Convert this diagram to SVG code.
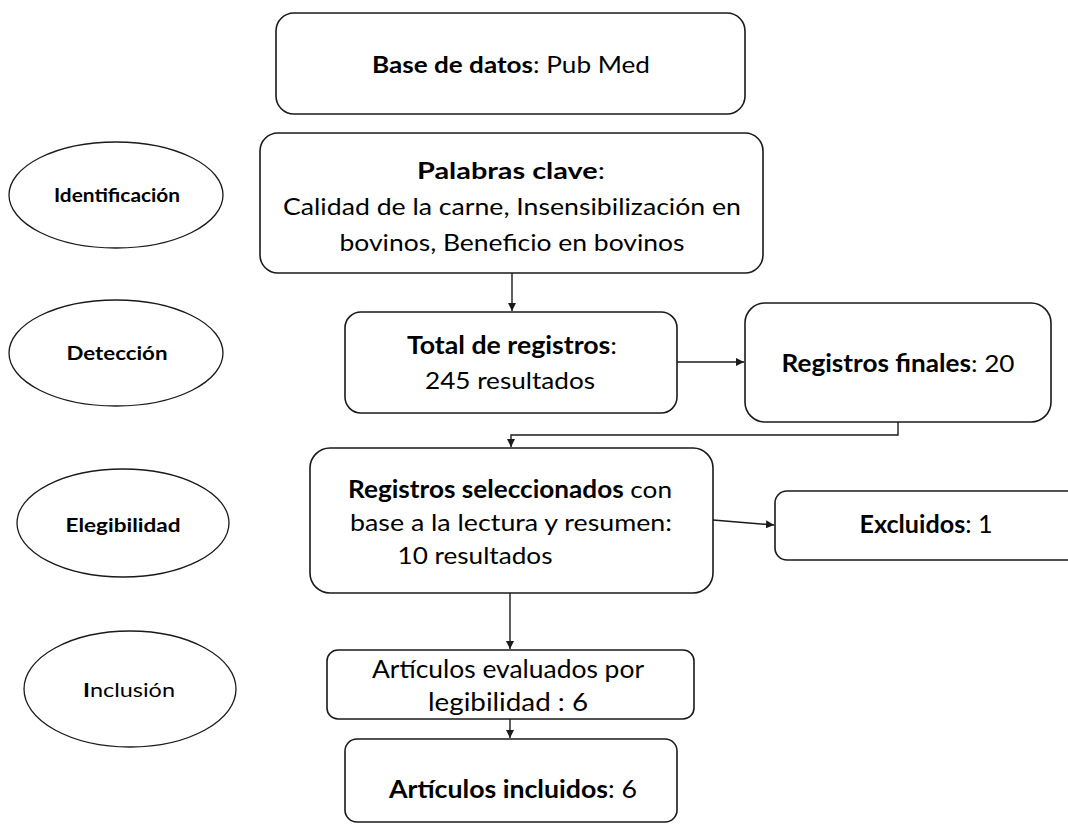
<svg xmlns="http://www.w3.org/2000/svg" width="1068" height="824" viewBox="0 0 1068 824">
<style>
.box{fill:#fff;stroke:#1a1a1a;stroke-width:1.6}
.ell{fill:#fff;stroke:#1a1a1a;stroke-width:1.3}
.t{font-family:Lato,"Liberation Sans",sans-serif;fill:#000;text-anchor:middle}
.b{font-weight:bold}
.lbl{font-family:Lato,"Liberation Sans",sans-serif;font-weight:bold;font-size:19px;text-anchor:middle;fill:#000}
.lbl.reg{font-weight:normal}
.lbl .b{font-weight:bold}
.con{fill:none;stroke:#1a1a1a;stroke-width:1.4}
</style>
<defs>
<marker id="ah" viewBox="0 0 10 10" refX="10" refY="5" markerWidth="8" markerHeight="8" markerUnits="userSpaceOnUse" orient="auto">
<path d="M0,0 L10,5 L0,10 z" fill="#1a1a1a"/>
</marker>
</defs>
<rect width="1068" height="824" fill="#fff"/>

<g id="stage-identificacion">
<ellipse class="ell" cx="116" cy="195" rx="107" ry="53"/>
<text class="lbl" x="117" y="202" textLength="126" lengthAdjust="spacingAndGlyphs">Identificación</text>
</g>
<g id="stage-deteccion">
<ellipse class="ell" cx="116" cy="353" rx="107" ry="53"/>
<text class="lbl" x="117" y="360" textLength="101" lengthAdjust="spacingAndGlyphs">Detección</text>
</g>
<g id="stage-elegibilidad">
<ellipse class="ell" cx="123" cy="523" rx="106" ry="54"/>
<text class="lbl" x="123" y="532" textLength="115" lengthAdjust="spacingAndGlyphs">Elegibilidad</text>
</g>
<g id="stage-inclusion">
<ellipse class="ell" cx="130" cy="689" rx="106" ry="58"/>
<text class="lbl reg" x="129" y="697" textLength="92" lengthAdjust="spacingAndGlyphs"><tspan class="b">I</tspan>nclusión</text>
</g>

<g id="node-base">
<rect class="box" x="276" y="13" width="469" height="101" rx="18"/>
<text class="t" x="511" y="73" font-size="23" textLength="278" lengthAdjust="spacingAndGlyphs"><tspan class="b">Base de datos</tspan>: Pub Med</text>
</g>
<g id="node-palabras">
<rect class="box" x="260" y="133" width="503" height="140" rx="18"/>
<text class="t" x="511" y="179" font-size="23" textLength="188" lengthAdjust="spacingAndGlyphs"><tspan class="b">Palabras clave</tspan>:</text>
<text class="t" x="512" y="215" font-size="23" textLength="458" lengthAdjust="spacingAndGlyphs">Calidad de la carne, Insensibilización en</text>
<text class="t" x="512" y="251" font-size="23" textLength="345" lengthAdjust="spacingAndGlyphs">bovinos, Beneficio en bovinos</text>
</g>
<g id="node-total">
<rect class="box" x="345" y="312" width="332" height="101" rx="16"/>
<text class="t" x="512" y="354" font-size="24" textLength="210" lengthAdjust="spacingAndGlyphs"><tspan class="b">Total de registros</tspan>:</text>
<text class="t" x="510" y="389" font-size="24" textLength="170" lengthAdjust="spacingAndGlyphs">245 resultados</text>
</g>
<g id="node-finales">
<rect class="box" x="745" y="303" width="306" height="119" rx="20"/>
<text class="t" x="898" y="372" font-size="24" textLength="233" lengthAdjust="spacingAndGlyphs"><tspan class="b">Registros finales</tspan>: 20</text>
</g>
<g id="node-seleccionados">
<rect class="box" x="310" y="448" width="403" height="145" rx="20"/>
<text class="t" x="510" y="498" font-size="24" textLength="324" lengthAdjust="spacingAndGlyphs"><tspan class="b">Registros seleccionados</tspan> con</text>
<text class="t" x="511" y="531" font-size="24" textLength="322" lengthAdjust="spacingAndGlyphs">base a la lectura y resumen:</text>
<text class="t" x="475" y="564" font-size="24" textLength="155" lengthAdjust="spacingAndGlyphs">10 resultados</text>
</g>
<g id="node-excluidos">
<rect class="box" x="775" y="491" width="310" height="69" rx="12"/>
<text class="t" x="926" y="533" font-size="25" textLength="133" lengthAdjust="spacingAndGlyphs"><tspan class="b">Excluidos</tspan>: 1</text>
</g>
<g id="node-evaluados">
<rect class="box" x="327" y="650" width="367" height="69" rx="11"/>
<text class="t" x="508" y="678" font-size="25" textLength="272" lengthAdjust="spacingAndGlyphs">Artículos evaluados por</text>
<text class="t" x="508" y="711" font-size="25" textLength="160" lengthAdjust="spacingAndGlyphs">legibilidad : 6</text>
</g>
<g id="node-incluidos">
<rect class="box" x="345" y="739" width="332" height="83" rx="12"/>
<text class="t" x="513" y="798" font-size="25" textLength="248" lengthAdjust="spacingAndGlyphs"><tspan class="b">Artículos incluidos</tspan>: 6</text>
</g>

<g id="connectors">
<path class="con" d="M512,273 V311" marker-end="url(#ah)"/>
<path class="con" d="M677,362 H744" marker-end="url(#ah)"/>
<path class="con" d="M898,422 V435 H511 V447" marker-end="url(#ah)"/>
<path class="con" d="M713,520 L774,525" marker-end="url(#ah)"/>
<path class="con" d="M510,593 V649" marker-end="url(#ah)"/>
<path class="con" d="M510,719 V738" marker-end="url(#ah)"/>
</g>
</svg>
